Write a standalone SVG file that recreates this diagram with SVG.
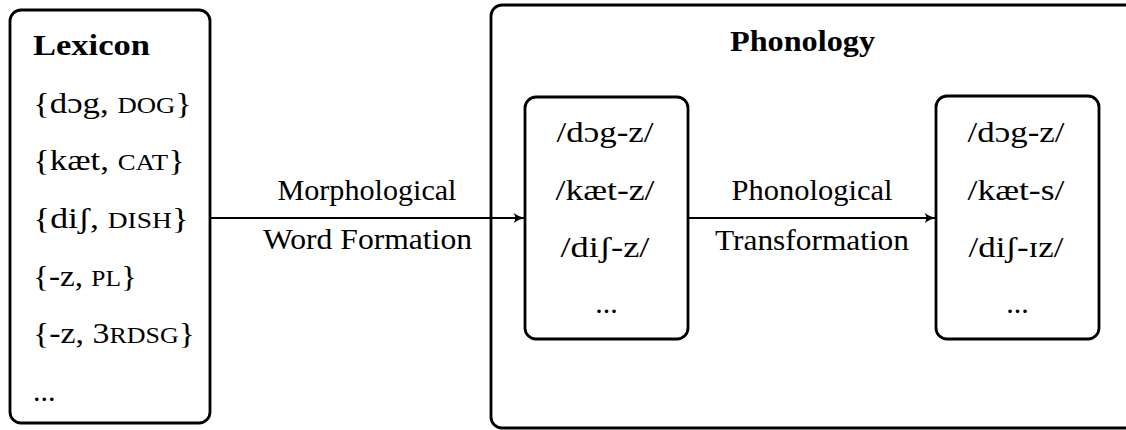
<svg xmlns="http://www.w3.org/2000/svg" width="1126" height="430" viewBox="0 0 1126 430">
<style>
  .box { fill: #ffffff; stroke: #000000; stroke-width: 2.8; }
  .t { font-family: "Liberation Serif", "DejaVu Serif", serif; font-size: 30px; fill: #000000; }
  .b { font-weight: bold; }
  .m { text-anchor: middle; }
  .sc { font-size: 23px; }
  .conn { stroke: #000000; stroke-width: 2.2; fill: none; }
</style>
<defs>
  <marker id="arr" markerWidth="14" markerHeight="12" refX="11" refY="6" orient="auto" markerUnits="userSpaceOnUse">
    <path d="M0.5,1 Q6,5 12,6 Q6,7 0.5,11 Q4,6 0.5,1 Z" fill="#000000"/>
  </marker>
</defs>
<rect width="1126" height="430" fill="#ffffff"/>
<g id="phonology">
  <rect class="box" x="491" y="5" width="660" height="423" rx="11"/>
  <text class="t b" x="730" y="51" textLength="145" lengthAdjust="spacingAndGlyphs">Phonology</text>
</g>
<g id="lexicon">
  <rect class="box" x="10" y="10" width="200" height="413" rx="11"/>
  <text class="t b" x="33" y="55" textLength="117" lengthAdjust="spacingAndGlyphs">Lexicon</text>
  <text class="t" x="33" y="113" textLength="159" lengthAdjust="spacingAndGlyphs">{dɔg, <tspan class="sc">DOG</tspan>}</text>
  <text class="t" x="33" y="170" textLength="152" lengthAdjust="spacingAndGlyphs">{kæt, <tspan class="sc">CAT</tspan>}</text>
  <text class="t" x="33" y="228" textLength="156" lengthAdjust="spacingAndGlyphs">{diʃ, <tspan class="sc">DISH</tspan>}</text>
  <text class="t" x="33" y="286" textLength="104" lengthAdjust="spacingAndGlyphs">{-z, <tspan class="sc">PL</tspan>}</text>
  <text class="t" x="33" y="343" textLength="162" lengthAdjust="spacingAndGlyphs">{-z, 3<tspan class="sc">RDSG</tspan>}</text>
  <text class="t" x="33" y="401">...</text>
</g>
<g id="underlying">
  <rect class="box" x="525" y="97" width="163" height="242" rx="11"/>
  <text class="t m" x="605" y="142" textLength="97" lengthAdjust="spacingAndGlyphs">/dɔg-z/</text>
  <text class="t m" x="605" y="200" textLength="99" lengthAdjust="spacingAndGlyphs">/kæt-z/</text>
  <text class="t m" x="605" y="257" textLength="89" lengthAdjust="spacingAndGlyphs">/diʃ-z/</text>
  <text class="t m" x="606.5" y="313">...</text>
</g>
<g id="surface">
  <rect class="box" x="936" y="96" width="163" height="243" rx="11"/>
  <text class="t m" x="1016" y="142" textLength="97" lengthAdjust="spacingAndGlyphs">/dɔg-z/</text>
  <text class="t m" x="1016" y="200" textLength="97" lengthAdjust="spacingAndGlyphs">/kæt-s/</text>
  <text class="t m" x="1016" y="257" textLength="95" lengthAdjust="spacingAndGlyphs">/diʃ-ɪz/</text>
  <text class="t m" x="1017.5" y="313">...</text>
</g>
<g id="connectors">
  <line class="conn" x1="210" y1="218" x2="524" y2="218" marker-end="url(#arr)"/>
  <line class="conn" x1="688" y1="218" x2="935" y2="218" marker-end="url(#arr)"/>
  <text class="t m" x="367" y="200" textLength="179" lengthAdjust="spacingAndGlyphs">Morphological</text>
  <text class="t m" x="367.5" y="249" textLength="209" lengthAdjust="spacingAndGlyphs">Word Formation</text>
  <text class="t m" x="812" y="200" textLength="161" lengthAdjust="spacingAndGlyphs">Phonological</text>
  <text class="t m" x="812" y="250" textLength="194" lengthAdjust="spacingAndGlyphs">Transformation</text>
</g>
</svg>
